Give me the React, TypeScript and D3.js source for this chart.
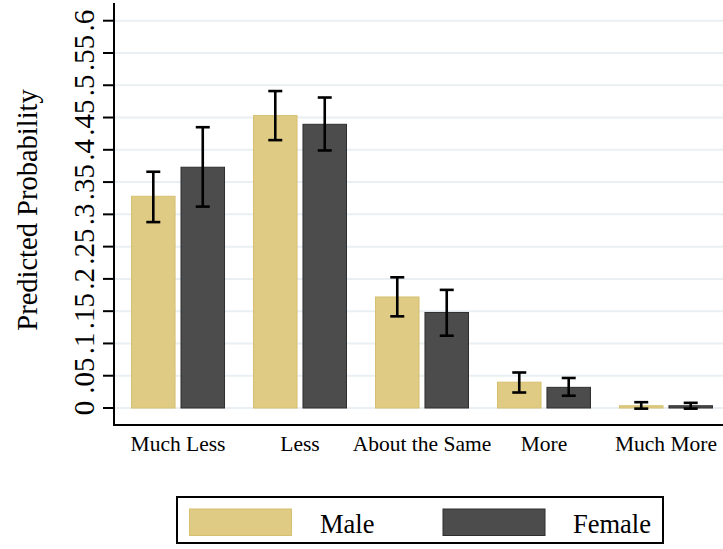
import React from "react";
import * as d3 from "d3";

const categories = ["Much Less", "Less", "About the Same", "More", "Much More"];
const seriesNames = ["Male", "Female"];
const maleValues = [0.328, 0.453, 0.172, 0.04, 0.0035];
const maleLower = [0.288, 0.415, 0.142, 0.024, -0.001];
const maleUpper = [0.366, 0.491, 0.2025, 0.055, 0.009];
const femaleValues = [0.373, 0.4395, 0.148, 0.032, 0.0035];
const femaleLower = [0.312, 0.399, 0.112, 0.019, -0.001];
const femaleUpper = [0.435, 0.481, 0.183, 0.0465, 0.008];
const yTicks = [0, 0.05, 0.1, 0.15, 0.2, 0.25, 0.3, 0.35, 0.4, 0.45, 0.5, 0.55, 0.6];
const yTickLabels = ["0", ".05", ".1", ".15", ".2", ".25", ".3", ".35", ".4", ".45", ".5", ".55", ".6"];

const W = 723;
const H = 549;
const FONT = "'Liberation Serif', 'Times New Roman', serif";
const colors = { Male: "#dfcb83", Female: "#4c4c4c" };
const strokes = { Male: "#d6c070", Female: "#2e2e2e" };

export default function App() {
  const axisX = 114;
  const axisY = 425;
  const y = d3.scaleLinear().domain([0, 0.6]).range([408, 20.7]);
  const x = d3
    .scaleBand<string>()
    .domain(categories)
    .range([117, 727])
    .paddingInner(28 / 122)
    .paddingOuter(0.115);
  const xs = d3
    .scaleBand<string>()
    .domain(seriesNames)
    .range([0, x.bandwidth()])
    .paddingInner(0.1);

  const series = [
    { name: "Male", values: maleValues, lo: maleLower, hi: maleUpper },
    { name: "Female", values: femaleValues, lo: femaleLower, hi: femaleUpper },
  ];

  return (
    <svg
      width={W}
      height={H}
      style={{ position: "absolute", left: 0, top: 0, background: "#fff" }}
      fontFamily={FONT}
    >
      <rect x={0} y={0} width={W} height={H} fill="#fff" />
      {/* gridlines */}
      {yTicks.map((t) => (
        <line key={"g" + t} x1={axisX + 1} x2={W} y1={y(t)} y2={y(t)} stroke="#e9eff2" strokeWidth={2} />
      ))}
      {/* bars */}
      {series.map((s) =>
        categories.map((c, i) => {
          const bx = (x(c) as number) + (xs(s.name) as number);
          const bw = xs.bandwidth();
          const top = y(s.values[i]);
          return (
            <rect
              key={s.name + c}
              x={bx + 0.5}
              y={top}
              width={bw - 1}
              height={y(0) - top}
              fill={(colors as any)[s.name]}
              stroke={(strokes as any)[s.name]}
              strokeWidth={1}
            />
          );
        })
      )}
      {/* error bars */}
      {series.map((s) =>
        categories.map((c, i) => {
          const cx = (x(c) as number) + (xs(s.name) as number) + xs.bandwidth() / 2;
          const y1 = y(s.hi[i]);
          const y2 = y(s.lo[i]);
          return (
            <g key={"e" + s.name + c} stroke="#000" strokeWidth={2.6}>
              <line x1={cx} x2={cx} y1={y1} y2={y2} />
              <line x1={cx - 7} x2={cx + 7} y1={y1} y2={y1} />
              <line x1={cx - 7} x2={cx + 7} y1={y2} y2={y2} />
            </g>
          );
        })
      )}
      {/* axes */}
      <line x1={axisX} x2={axisX} y1={3} y2={axisY + 1} stroke="#000" strokeWidth={2} />
      <line x1={axisX - 1} x2={W} y1={axisY} y2={axisY} stroke="#000" strokeWidth={2} />
      {yTicks.map((t, i) => (
        <g key={"t" + t}>
          <line x1={axisX - 11} x2={axisX} y1={y(t)} y2={y(t)} stroke="#000" strokeWidth={2} />
          <text
            transform={`translate(94,${y(t)}) rotate(-90)`}
            textAnchor="middle"
            fontSize={29}
            fill="#000"
          >
            {yTickLabels[i]}
          </text>
        </g>
      ))}
      <text
        transform={`translate(37,210) rotate(-90)`}
        textAnchor="middle"
        fontSize={28.5}
        fill="#000"
      >
        Predicted Probability
      </text>
      {categories.map((c) => (
        <text
          key={"xl" + c}
          x={(x(c) as number) + x.bandwidth() / 2}
          y={451}
          textAnchor="middle"
          fontSize={21.5}
          fill="#000"
        >
          {c}
        </text>
      ))}
      {/* legend */}
      <rect x={177} y={497} width={486} height={46} fill="#fff" stroke="#000" strokeWidth={2} />
      <rect x={189.5} y={509} width={102} height={26.5} fill={colors.Male} stroke={strokes.Male} strokeWidth={1} />
      <text x={320} y={533} fontSize={26.5} fill="#000">Male</text>
      <rect x={443} y={509} width={102} height={26.5} fill={colors.Female} stroke={strokes.Female} strokeWidth={1} />
      <text x={573} y={533} fontSize={26.5} fill="#000">Female</text>
    </svg>
  );
}
